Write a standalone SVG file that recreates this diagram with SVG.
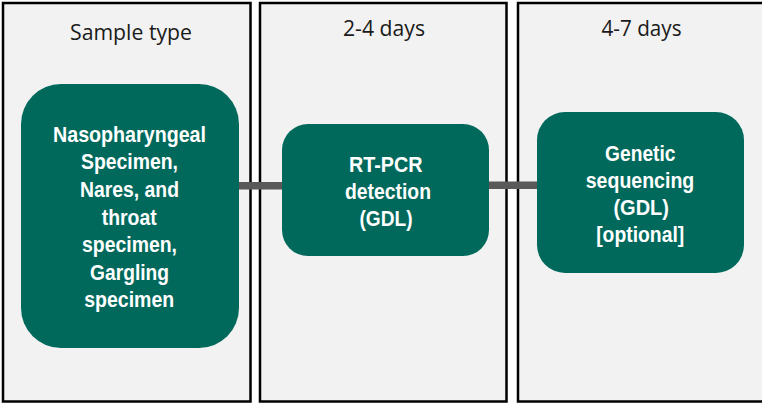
<svg xmlns="http://www.w3.org/2000/svg" width="762" height="404" viewBox="0 0 762 404">
<style>
.panel{fill:#f2f2f2;stroke:#000;stroke-width:2.5}
.hdr{font-family:"Open Sans","DejaVu Sans",sans-serif;font-size:21px;fill:#1a1a1a;text-anchor:middle}
.node{fill:#01695c}
.nt{font-family:"Liberation Sans",Arial,sans-serif;font-weight:bold;font-size:21.5px;fill:#fff;text-anchor:middle}
.conn{fill:#595959}
</style>
<rect width="762" height="404" fill="#ffffff"/>
<g id="panels">
<g id="panel1"><rect class="panel" x="3" y="3" width="247.5" height="398.5"/><text class="hdr" x="131" y="39.5" textLength="122" lengthAdjust="spacingAndGlyphs">Sample type</text></g>
<g id="panel2"><rect class="panel" x="260" y="3" width="246.5" height="398.5"/><text class="hdr" x="384" y="36" textLength="82" lengthAdjust="spacingAndGlyphs">2-4 days</text></g>
<g id="panel3"><rect class="panel" x="518" y="3" width="250" height="398.5"/><text class="hdr" x="641.5" y="36" textLength="80" lengthAdjust="spacingAndGlyphs">4-7 days</text></g>
</g>
<g id="connectors">
<rect class="conn" x="238" y="182" width="45" height="7.5"/>
<rect class="conn" x="488" y="181.5" width="50" height="7.5"/>
</g>
<g id="node1">
<rect class="node" x="21" y="84" width="218" height="264" rx="40" ry="40"/>
<text class="nt" x="129.5" y="141.7" textLength="153" lengthAdjust="spacingAndGlyphs">Nasopharyngeal</text>
<text class="nt" x="129.5" y="169.3" textLength="97" lengthAdjust="spacingAndGlyphs">Specimen,</text>
<text class="nt" x="129.5" y="196.9" textLength="99" lengthAdjust="spacingAndGlyphs">Nares, and</text>
<text class="nt" x="129.2" y="224.5" textLength="55" lengthAdjust="spacingAndGlyphs">throat</text>
<text class="nt" x="129.5" y="252.1" textLength="95" lengthAdjust="spacingAndGlyphs">specimen,</text>
<text class="nt" x="129.6" y="279.7" textLength="79" lengthAdjust="spacingAndGlyphs">Gargling</text>
<text class="nt" x="129.2" y="307.3" textLength="90" lengthAdjust="spacingAndGlyphs">specimen</text>
</g>
<g id="node2">
<rect class="node" x="282" y="124" width="207" height="132" rx="26" ry="26"/>
<text class="nt" x="385.8" y="171.5" textLength="73.5" lengthAdjust="spacingAndGlyphs">RT-PCR</text>
<text class="nt" x="388" y="198.5" textLength="86" lengthAdjust="spacingAndGlyphs">detection</text>
<text class="nt" x="386" y="226" textLength="53" lengthAdjust="spacingAndGlyphs">(GDL)</text>
</g>
<g id="node3">
<rect class="node" x="537" y="112" width="207" height="161" rx="28" ry="28"/>
<text class="nt" x="640.3" y="161" textLength="70.5" lengthAdjust="spacingAndGlyphs">Genetic</text>
<text class="nt" x="640" y="188.3" textLength="108.5" lengthAdjust="spacingAndGlyphs">sequencing</text>
<text class="nt" x="641.2" y="215.3" textLength="55.5" lengthAdjust="spacingAndGlyphs">(GDL)</text>
<text class="nt" x="640.2" y="242" textLength="88" lengthAdjust="spacingAndGlyphs">[optional]</text>
</g>
</svg>
